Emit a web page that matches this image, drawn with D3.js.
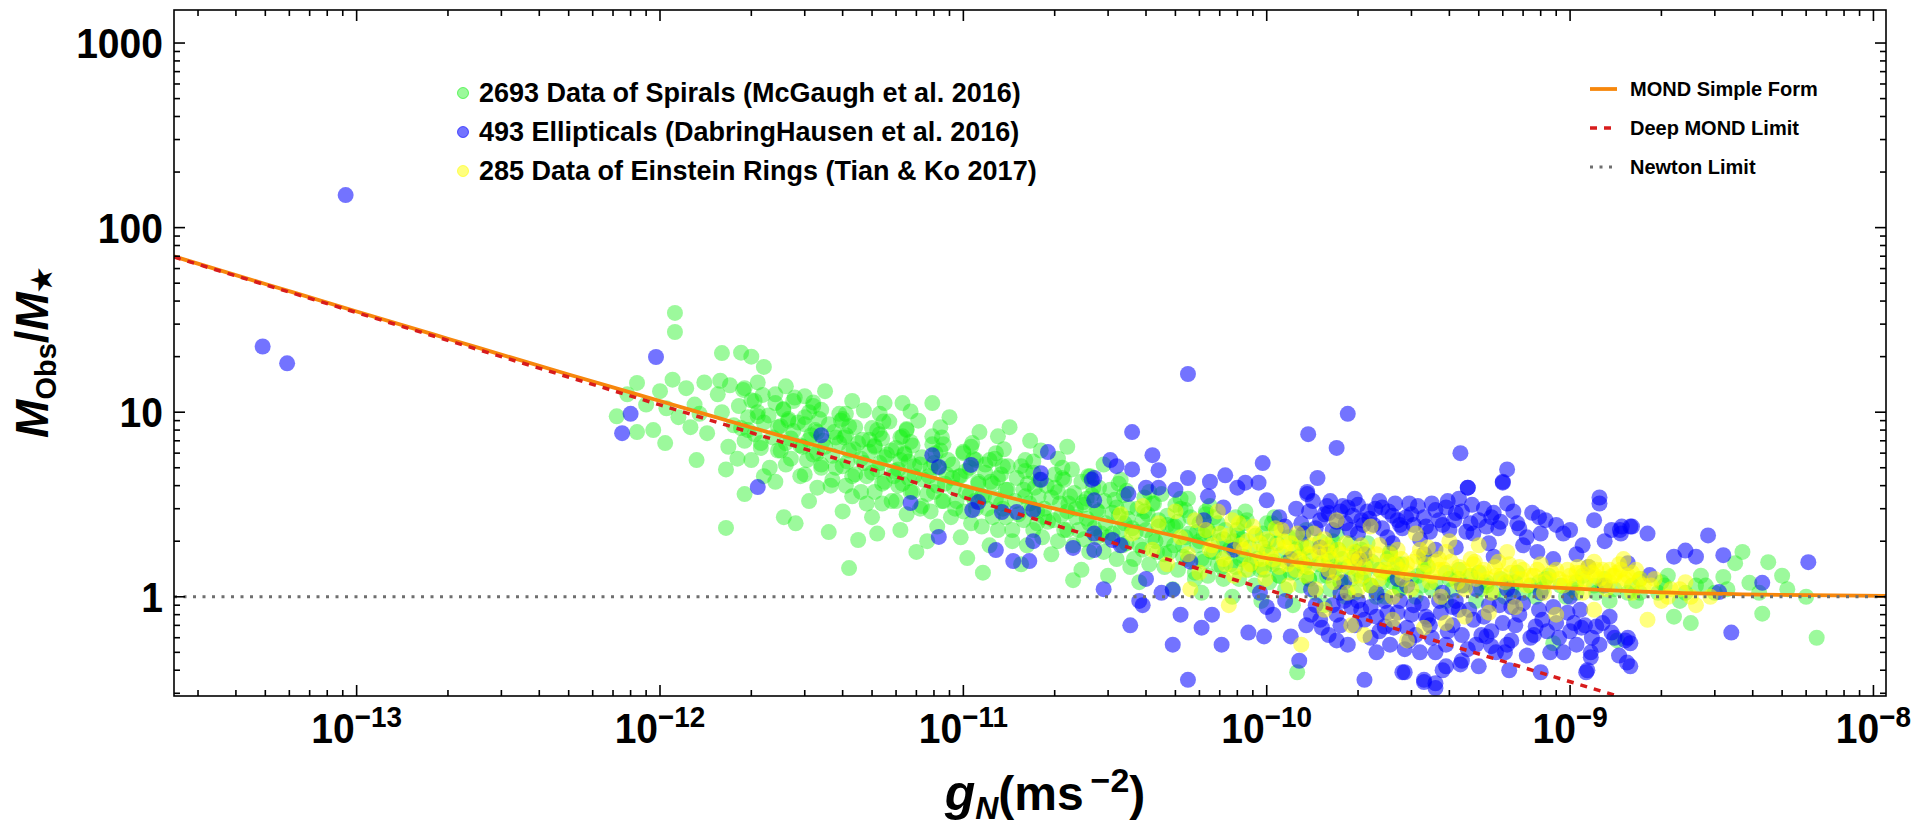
<!DOCTYPE html>
<html>
<head>
<meta charset="utf-8">
<script src="https://cdn.jsdelivr.net/npm/d3@7"></script>
<style>
  body { margin: 0; background: #fff; }
  svg { display: block; font-family: "Liberation Sans", Arial, sans-serif; }
</style>
</head>
<body>
<svg id="chart" width="1917" height="825"></svg>
<script>
// --- data: [gN (m s^-2), Mobs/M*] ---
const spirals = [
  [7.2e-13,9.5],[8.4e-13,14.4],[8.4e-13,7.8],[9.5e-13,8.0],[7.8e-13,12.5],[9.0e-13,11],
  [1.04e-12,6.8],[1.12e-12,34.5],[1.12e-12,27.2],[1.15e-12,9.4],[1.0e-12,13],[1.1e-12,15],[1.05e-12,10.5],
  [1.26e-12,8.3],[1.32e-12,5.5],[1.43e-12,7.7],[1.3e-12,11],[1.22e-12,13.5],[1.4e-12,14.5],[1.35e-12,9.8],
  [1.6e-12,20.9],[1.65e-12,4.9],[1.65e-12,2.36],[1.55e-12,12.5],[1.7e-12,14],[1.6e-12,10],[1.75e-12,8.5],[1.68e-12,6.5],[1.58e-12,14.8],
  [1.85e-12,21],[2.0e-12,20],[2.2e-12,17.6],[1.9e-12,13.5],[2.05e-12,11.5],[2.1e-12,9.5],[1.95e-12,8],[2.15e-12,6.8],[2.0e-12,5.5],[2.2e-12,4.5],[1.9e-12,3.6],[2.1e-12,14.5],
  [2.56e-12,2.7],[2.8e-12,2.5],[2.4e-12,4.2],[2.6e-12,5.2],[2.5e-12,6.2],[2.7e-12,7.2],[2.45e-12,8.3],[2.65e-12,9.2],[2.55e-12,10.3],[2.75e-12,11.5],[2.4e-12,12.5],[2.6e-12,13.8],[2.9e-12,6.6],[2.85e-12,8.8],
  [3.6e-12,2.24],[3.1e-12,3.3],[3.3e-12,3.9],[3.0e-12,4.6],[3.4e-12,5.2],[3.2e-12,5.9],[3.5e-12,6.5],[3.1e-12,7.1],[3.3e-12,7.8],[3.6e-12,8.6],[3.0e-12,9.4],[3.4e-12,10.3],[3.2e-12,11.3],[3.0e-12,12.2],[3.5e-12,13],[3.7e-12,4.3],[3.8e-12,7.3],[3.9e-12,9.8],
  [4.2e-12,1.43],[4.5e-12,2.03],[4.0e-12,2.9],[4.3e-12,3.5],[4.1e-12,4.0],[4.4e-12,4.6],[4.0e-12,5.1],[4.6e-12,5.6],[4.2e-12,6.2],[4.5e-12,6.8],[4.1e-12,7.5],[4.4e-12,8.3],[4.0e-12,9.2],[4.7e-12,10.2],[4.3e-12,11.5],[4.8e-12,3.2],[4.9e-12,7.1],
  [5.2e-12,2.2],[5.0e-12,2.7],[5.4e-12,3.2],[5.1e-12,3.7],[5.5e-12,4.2],[5.0e-12,4.7],[5.3e-12,5.3],[5.6e-12,5.9],[5.1e-12,6.5],[5.4e-12,7.2],[5.2e-12,8.0],[5.7e-12,8.9],[5.3e-12,9.8],[5.5e-12,11.2],[5.9e-12,4.5],[5.8e-12,6.2],
  [7.0e-12,1.75],[6.2e-12,2.3],[6.5e-12,2.8],[6.0e-12,3.3],[6.7e-12,3.7],[6.3e-12,4.1],[6.9e-12,4.5],[6.1e-12,4.9],[6.6e-12,5.4],[6.4e-12,6.0],[6.8e-12,6.6],[6.2e-12,7.3],[6.5e-12,8.1],[7.1e-12,9.0],[6.7e-12,10.1],[6.3e-12,11.2],[7.2e-12,5.2],[7.3e-12,3.1],
  [7.6e-12,2.0],[8.2e-12,2.4],[7.8e-12,2.9],[8.5e-12,3.3],[8.0e-12,3.7],[8.7e-12,4.1],[7.7e-12,4.5],[8.3e-12,5.0],[8.9e-12,5.5],[8.1e-12,6.0],[8.6e-12,6.7],[7.9e-12,7.4],[8.4e-12,8.3],[9.0e-12,9.4],[7.9e-12,11.2],[9.2e-12,4.4],[9.4e-12,3.0],
  [1.03e-11,1.62],[9.8e-12,2.1],[1.06e-11,2.5],[1.0e-11,2.9],[1.09e-11,3.3],[1.02e-11,3.7],[1.12e-11,4.1],[9.7e-12,4.5],[1.05e-11,5.0],[1.1e-11,5.5],[1.0e-11,6.1],[1.07e-11,6.8],[1.13e-11,7.8],[1.16e-11,1.35],[1.15e-11,3.5],[1.18e-11,5.2],
  [1.22e-11,1.9],[1.3e-11,2.3],[1.25e-11,2.7],[1.35e-11,3.0],[1.28e-11,3.4],[1.38e-11,3.8],[1.23e-11,4.2],[1.33e-11,4.6],[1.4e-11,5.1],[1.27e-11,5.6],[1.36e-11,6.3],[1.3e-11,7.4],[1.42e-11,8.3],[1.45e-11,2.0],
  [1.55e-11,1.5],[1.62e-11,1.9],[1.7e-11,2.3],[1.58e-11,2.6],[1.75e-11,2.9],[1.65e-11,3.2],[1.6e-11,3.5],[1.72e-11,3.9],[1.78e-11,4.3],[1.6e-11,4.8],[1.7e-11,5.4],[1.8e-11,6.2],[1.66e-11,7.0],[1.85e-11,2.7],
  [2.3e-11,1.23],[1.95e-11,1.7],[2.05e-11,2.0],[2.15e-11,2.3],[1.98e-11,2.6],[2.2e-11,2.9],[2.08e-11,3.2],[2.25e-11,3.5],[2.0e-11,3.9],[2.12e-11,4.4],[2.28e-11,4.9],[2.05e-11,5.6],[2.2e-11,6.5],[2.35e-11,3.0],
  [2.45e-11,1.4],[2.6e-11,1.75],[2.5e-11,2.05],[2.7e-11,2.35],[2.55e-11,2.65],[2.75e-11,2.95],[2.48e-11,3.25],[2.65e-11,3.55],[2.8e-11,3.9],[2.58e-11,4.5],[2.9e-11,5.2],[2.85e-11,2.2],
  [3.0e-11,1.3],[3.2e-11,1.6],[3.35e-11,1.9],[3.1e-11,2.2],[3.4e-11,2.5],[3.25e-11,2.75],[3.5e-11,3.05],[3.15e-11,3.35],[3.45e-11,3.75],[3.3e-11,4.3],[3.6e-11,2.35],[3.55e-11,1.45],
  [3.8e-11,1.2],[4.1e-11,1.5],[3.9e-11,1.8],[4.3e-11,2.0],[4.0e-11,2.3],[4.4e-11,2.6],[3.95e-11,2.9],[4.2e-11,3.2],[4.5e-11,3.6],[4.6e-11,1.7],[4.7e-11,2.45],
  [4.9e-11,1.1],[5.1e-11,1.4],[5.3e-11,1.65],[4.95e-11,1.9],[5.4e-11,2.1],[5.0e-11,2.4],[5.6e-11,2.7],[5.2e-11,3.0],[5.5e-11,3.4],[5.8e-11,1.25],[5.9e-11,2.25],
  [6.1e-11,1.05],[6.4e-11,1.3],[6.2e-11,1.55],[6.7e-11,1.75],[6.0e-11,2.0],[6.5e-11,2.2],[6.9e-11,2.5],[6.3e-11,2.8],[7.1e-11,1.45],[7.2e-11,2.05],
  [7.7e-11,1.0],[8.1e-11,1.25],[7.9e-11,1.45],[8.4e-11,1.65],[7.6e-11,1.85],[8.3e-11,2.05],[8.0e-11,2.3],[8.6e-11,2.6],[8.9e-11,1.5],
  [9.6e-11,0.95],[1.02e-10,1.2],[9.8e-11,1.4],[1.05e-10,1.55],[1.0e-10,1.75],[1.08e-10,1.95],[9.7e-11,2.2],[1.04e-10,2.5],[1.1e-10,1.3],
  [1.22e-10,0.9],[1.26e-10,0.39],[1.3e-10,1.15],[1.24e-10,1.35],[1.33e-10,1.5],[1.28e-10,1.65],[1.36e-10,1.85],[1.25e-10,2.1],[1.38e-10,1.25],
  [1.55e-10,0.9],[1.62e-10,1.1],[1.58e-10,1.3],[1.68e-10,1.45],[1.6e-10,1.6],[1.72e-10,1.8],[1.65e-10,2.0],[1.75e-10,1.2],
  [1.95e-10,1.05],[2.05e-10,1.25],[2.0e-10,1.4],[2.12e-10,1.55],[1.98e-10,1.75],[2.2e-10,1.15],[2.15e-10,1.95],
  [2.45e-10,1.0],[2.6e-10,1.2],[2.5e-10,1.35],[2.7e-10,1.5],[2.55e-10,1.7],[2.75e-10,1.1],
  [3.1e-10,1.0],[3.25e-10,1.15],[3.15e-10,1.3],[3.4e-10,1.45],[3.3e-10,1.6],[3.5e-10,1.1],
  [3.9e-10,0.95],[4.1e-10,1.1],[4.0e-10,1.25],[4.3e-10,1.4],[4.5e-10,1.15],
  [4.9e-10,0.95],[5.1e-10,1.1],[5.3e-10,1.2],[5.0e-10,1.35],[5.6e-10,1.05],
  [6.1e-10,1.0],[6.4e-10,1.1],[6.2e-10,1.2],[6.7e-10,1.35],[7.0e-10,1.05],
  [7.7e-10,1.0],[8.1e-10,1.1],[7.9e-10,1.2],[8.5e-10,1.3],[8.8e-10,0.56],
  [9.7e-10,1.0],[1.02e-9,1.1],[1.05e-9,1.2],[1.1e-9,1.3],[1.43e-9,0.58],
  [1.22e-9,1.05],[1.28e-9,1.15],[1.3e-9,1.25],[1.35e-9,0.95],
  [1.55e-9,1.05],[1.6e-9,1.15],[1.7e-9,1.25],[1.65e-9,0.95],
  [1.95e-9,1.05],[2.05e-9,1.15],[2.2e-9,0.78],[2.1e-9,1.3],[2.5e-9,0.72],
  [2.4e-9,1.05],[2.6e-9,1.15],[2.7e-9,1.3],
  [3.2e-9,1.28],[3.5e-9,1.52],[3.7e-9,1.75],[3.0e-9,1.05],[3.3e-9,1.1],
  [3.9e-9,1.19],[4.3e-9,0.81],[4.5e-9,1.54],[4.2e-9,1.05],[5.2e-9,1.1],[6.5e-9,0.6],[6.0e-9,1.0],[5.0e-9,1.3],
  // dense core of the spiral band
  [1.8e-12,5.6],[2.15e-12,6.4],[1.9e-12,7.0],[2.05e-12,7.6],[1.85e-12,8.2],[2.2e-12,8.8],[1.95e-12,9.4],[2.1e-12,10.0],[1.82e-12,10.8],[2.0e-12,11.6],[2.18e-12,12.4],[1.88e-12,13.2],
  [2.3e-12,5.0],[2.7e-12,5.6],[2.45e-12,6.2],[2.6e-12,6.8],[2.35e-12,7.3],[2.75e-12,7.9],[2.5e-12,8.4],[2.65e-12,9.0],[2.28e-12,9.6],[2.55e-12,10.4],[2.4e-12,11.2],[2.78e-12,12.0],
  [2.9e-12,4.5],[3.4e-12,5.0],[3.05e-12,5.5],[3.3e-12,6.0],[2.95e-12,6.5],[3.45e-12,7.0],[3.15e-12,7.5],[3.25e-12,8.0],[3.0e-12,8.6],[3.35e-12,9.2],[3.1e-12,10.0],[3.2e-12,10.8],
  [3.65e-12,4.0],[4.3e-12,4.5],[3.8e-12,5.0],[4.15e-12,5.4],[3.7e-12,5.8],[4.35e-12,6.3],[3.9e-12,6.8],[4.05e-12,7.3],[3.75e-12,7.8],[4.2e-12,8.4],[3.95e-12,9.0],[4.1e-12,9.8],
  [4.6e-12,3.7],[5.4e-12,4.1],[4.8e-12,4.5],[5.2e-12,4.9],[4.7e-12,5.3],[5.5e-12,5.7],[4.9e-12,6.1],[5.1e-12,6.6],[4.65e-12,7.1],[5.3e-12,7.6],[5.0e-12,8.2],[5.45e-12,8.9],
  [5.8e-12,3.3],[6.8e-12,3.7],[6.1e-12,4.0],[6.6e-12,4.4],[5.9e-12,4.8],[6.9e-12,5.1],[6.2e-12,5.5],[6.4e-12,5.9],[6.0e-12,6.4],[6.7e-12,6.9],[6.3e-12,7.4],[6.5e-12,8.0],
  [7.2e-12,3.0],[8.6e-12,3.3],[7.6e-12,3.6],[8.2e-12,4.0],[7.4e-12,4.3],[8.8e-12,4.6],[7.8e-12,5.0],[8.0e-12,5.3],[7.3e-12,5.7],[8.4e-12,6.2],[7.9e-12,6.7],[8.5e-12,7.3],
  [9.1e-12,2.7],[1.1e-11,3.0],[9.5e-12,3.3],[1.05e-11,3.6],[9.3e-12,3.9],[1.12e-11,4.2],[9.8e-12,4.5],[1.02e-11,4.8],[9.2e-12,5.2],[1.08e-11,5.6],[1.0e-11,6.0],[1.06e-11,6.5],
  [1.15e-11,2.4],[1.38e-11,2.7],[1.2e-11,3.0],[1.33e-11,3.2],[1.17e-11,3.5],[1.4e-11,3.8],[1.25e-11,4.1],[1.3e-11,4.4],[1.18e-11,4.7],[1.35e-11,5.1],[1.22e-11,5.5],[1.28e-11,6.0],
  [1.45e-11,2.3],[1.75e-11,2.5],[1.52e-11,2.8],[1.68e-11,3.0],[1.48e-11,3.3],[1.77e-11,3.5],[1.58e-11,3.8],[1.63e-11,4.1],[1.5e-11,4.4],[1.7e-11,4.7],[1.55e-11,5.1],[1.6e-11,5.5],
  [1.82e-11,2.1],[2.2e-11,2.3],[1.9e-11,2.55],[2.1e-11,2.75],[1.85e-11,3.0],[2.22e-11,3.2],[1.95e-11,3.45],[2.05e-11,3.7],[1.88e-11,4.0],[2.15e-11,4.3],[2.0e-11,4.6],[2.12e-11,5.0],
  [2.3e-11,1.9],[2.75e-11,2.1],[2.4e-11,2.3],[2.6e-11,2.5],[2.35e-11,2.7],[2.78e-11,2.9],[2.5e-11,3.15],[2.55e-11,3.4],[2.32e-11,3.65],[2.68e-11,3.9],[2.45e-11,4.2],[2.62e-11,4.5],
  [2.9e-11,1.75],[3.45e-11,1.95],[3.0e-11,2.1],[3.3e-11,2.3],[2.95e-11,2.5],[3.48e-11,2.65],[3.1e-11,2.85],[3.2e-11,3.05],[2.92e-11,3.3],[3.38e-11,3.55],[3.05e-11,3.8],[3.25e-11,4.1],
  [3.65e-11,1.6],[4.35e-11,1.75],[3.8e-11,1.9],[4.2e-11,2.1],[3.7e-11,2.25],[4.4e-11,2.4],[3.9e-11,2.6],[4.05e-11,2.8],[3.75e-11,3.0],[4.25e-11,3.2],[3.95e-11,3.45],[4.1e-11,3.7],
  [4.6e-11,1.45],[5.5e-11,1.6],[4.8e-11,1.75],[5.3e-11,1.9],[4.65e-11,2.05],[5.55e-11,2.2],[4.9e-11,2.4],[5.1e-11,2.55],[4.7e-11,2.75],[5.4e-11,2.95],[5.0e-11,3.15],[5.2e-11,3.4],
  [5.8e-11,1.35],[6.9e-11,1.5],[6.1e-11,1.6],[6.6e-11,1.75],[5.9e-11,1.9],[6.95e-11,2.0],[6.2e-11,2.15],[6.4e-11,2.3],[6.0e-11,2.5],[6.7e-11,2.7],[6.3e-11,2.9],[6.5e-11,3.1],
  [7.2e-11,1.25],[8.7e-11,1.4],[7.6e-11,1.5],[8.2e-11,1.6],[7.4e-11,1.75],[8.8e-11,1.85],[7.8e-11,2.0],[8.0e-11,2.15],[7.3e-11,2.3],[8.4e-11,2.5],[7.9e-11,2.7],[8.5e-11,2.9],
  [9.1e-11,1.15],[1.1e-10,1.3],[9.5e-11,1.4],[1.05e-10,1.5],[9.3e-11,1.6],[1.12e-10,1.7],[9.8e-11,1.85],[1.02e-10,2.0],[9.2e-11,2.15],[1.08e-10,2.3],[1.0e-10,2.5],[1.06e-10,2.7],
  [1.15e-10,1.1],[1.38e-10,1.25],[1.2e-10,1.35],[1.33e-10,1.45],[1.17e-10,1.55],[1.4e-10,1.65],[1.25e-10,1.8],[1.3e-10,1.95],[1.18e-10,2.1],[1.35e-10,2.3],
  [1.45e-10,1.05],[1.75e-10,1.2],[1.52e-10,1.3],[1.68e-10,1.4],[1.48e-10,1.5],[1.77e-10,1.6],[1.58e-10,1.7],[1.63e-10,1.85],[1.5e-10,2.0],[1.7e-10,2.2],
  [1.82e-10,1.0],[2.2e-10,1.15],[1.9e-10,1.25],[2.1e-10,1.35],[1.85e-10,1.45],[2.22e-10,1.55],[1.95e-10,1.65],[2.05e-10,1.8],[1.88e-10,1.95],
  [2.3e-10,1.0],[2.75e-10,1.1],[2.4e-10,1.2],[2.6e-10,1.3],[2.35e-10,1.4],[2.78e-10,1.5],[2.5e-10,1.6],[2.55e-10,1.75],
  [3.0e-10,1.25],[3.3e-10,1.4],[3.6e-10,1.2],[3.9e-10,1.35],[4.3e-10,1.25],[4.7e-10,1.3],[5.3e-10,1.15],[5.9e-10,1.25],[6.6e-10,1.2],[7.4e-10,1.15],
  [8.3e-10,1.25],[9.3e-10,1.15],[1.05e-9,1.05],[1.2e-9,1.15],[1.4e-9,1.1],[1.7e-9,1.05],[2.0e-9,1.2],[2.3e-9,0.95],[2.8e-9,1.15]
];

const ellipticals = [
  [4.9e-14,22.7],[5.9e-14,18.4],[9.2e-14,150],
  [9.7e-13,19.9],[8.0e-13,9.8],[7.5e-13,7.7],[3.4e-12,7.5],[2.1e-12,3.93],
  [7.9e-12,5.85],[8.3e-12,5.05],[1.06e-11,5.18],[1.8e-11,4.67],[1.9e-11,6.08],[2.7e-11,4.4],[3.05e-11,5.5],[3.2e-11,5.1],
  [6.7e-12,3.22],[1.12e-11,3.26],[1.07e-11,2.95],[1.34e-11,2.88],[1.5e-11,2.88],[1.7e-11,2.95],[2.7e-11,3.33],[1.8e-11,4.3],[2.65e-11,4.3],
  [8.3e-12,2.11],[1.28e-11,1.79],[1.46e-11,1.56],[1.65e-11,1.56],[1.7e-11,2.0],[2.3e-11,1.84],[2.7e-11,1.79],[2.7e-11,2.2],[3.1e-11,2.03],
  [5.5e-11,16.1],[1.85e-10,9.8],[3.6e-11,7.8],[1.37e-10,7.6],[1.7e-10,6.4],[4.35e-10,6.0],[6.2e-10,4.9],[6.0e-10,4.2],
  [4.2e-11,5.85],[3.6e-11,4.9],[4.4e-11,4.85],[9.7e-11,5.3],[1.47e-10,4.4],[5.5e-11,4.4],[6.5e-11,4.2],[7.3e-11,4.55],[8.5e-11,4.15],[9.4e-11,4.15],[1.36e-10,3.7],[4.6e-10,3.9],[1.25e-9,3.45],
  [4.4e-11,3.9],[5.0e-11,3.8],[6.4e-11,3.5],[8.0e-11,3.9],[7.2e-11,3.05],[1.0e-10,3.33],[1.1e-10,2.7],[1.36e-10,3.6],[1.6e-10,2.84],[1.85e-10,3.05],
  [2.05e-10,2.6],[2.4e-10,3.05],[2.7e-10,2.6],[2.95e-10,3.2],[3.35e-10,2.4],[3.9e-10,3.05],[4.2e-10,2.84],[4.6e-10,3.9],[4.7e-10,2.5],[5.5e-10,2.7],
  [6.0e-10,4.15],[6.7e-10,2.5],[7.9e-10,2.7],[9.5e-10,2.2],[1.25e-9,3.2],[1.46e-9,2.3],[1.6e-9,2.4],[3.5e-11,3.6],[4.0e-11,3.9],
  [3.55e-11,0.70],[4.9e-11,0.55],[5.5e-11,0.355],[7.1e-11,0.55],[6.6e-11,0.8],[4.5e-11,1.05],[4.9e-11,1.09],[8.7e-11,0.64],[9.8e-11,0.61],[1.0e-10,0.88],
  [1.2e-10,0.61],[1.28e-10,0.45],[1.5e-10,0.75],[1.7e-10,0.58],[1.75e-10,1.05],[1.9e-10,0.88],[2.1e-10,0.355],[2.3e-10,0.5],[2.45e-10,0.69],[2.8e-10,0.39],
  [2.95e-10,0.58],[3.3e-10,0.355],[3.6e-10,0.34],[3.4e-10,0.75],[3.9e-10,0.42],[4.1e-10,0.88],[4.4e-10,0.45],[5.0e-10,0.42],[5.3e-10,0.61],[6.1e-10,0.5],
  [6.4e-10,0.88],[7.7e-10,0.69],[8.8e-10,0.88],[1.03e-9,0.72],[1.14e-9,0.4],[1.17e-9,0.5],[1.22e-9,0.69],[1.37e-9,0.64],[1.52e-9,0.58],[1.54e-9,0.44],
  [1.48e-9,2.4],[1.37e-9,2.3],
  [1.58e-9,2.4],[1.8e-9,2.2],[1.47e-9,2.2],[2.85e-9,2.15],[2.2e-9,1.65],[2.4e-9,1.78],[2.6e-9,1.65],[3.2e-9,1.68],[6.1e-9,1.54],[4.3e-9,1.19],
  [1.83e-9,1.31],[3.1e-9,1.06],[3.4e-9,0.64],[1.55e-9,1.52],[1.55e-9,0.6],
  [1.58e-9,0.42],[1.58e-9,0.56],[1.17e-9,0.47],[1.13e-9,0.39],[8.0e-10,0.39],[6.3e-10,0.4],[4.35e-10,0.43],[3.8e-10,0.4],[3.6e-10,0.32],[3.3e-10,0.345],
  [2.85e-10,0.39],[5.5e-10,0.54],[1.09e-9,0.68],
  [1.15e-10,2.4],[1.25e-10,3.0],[1.32e-10,2.2],[1.42e-10,3.3],[1.5e-10,2.6],[1.58e-10,3.1],[1.65e-10,2.3],[1.75e-10,2.9],[1.82e-10,2.5],[1.95e-10,3.4],
  [2.0e-10,2.2],[2.15e-10,2.9],[2.25e-10,2.45],[2.35e-10,3.3],[2.5e-10,2.1],[2.6e-10,2.75],[2.8e-10,2.35],[3.0e-10,2.8],[3.2e-10,2.05],[3.5e-10,3.2],
  [3.7e-10,2.6],[4.0e-10,2.3],[4.3e-10,3.4],[4.8e-10,2.2],[5.2e-10,3.0],[5.8e-10,2.35],[6.5e-10,2.9],[7.2e-10,2.1],[8.3e-10,2.6],[1.1e-9,1.9],[1.3e-9,2.0],
  [1.05e-10,0.8],[1.15e-10,0.95],[1.35e-10,0.7],[1.45e-10,0.9],[1.6e-10,0.62],[1.7e-10,0.8],[1.8e-10,0.95],[1.95e-10,0.7],[2.05e-10,0.85],[2.2e-10,0.6],
  [2.3e-10,0.78],[2.45e-10,0.95],[2.55e-10,0.55],[2.7e-10,0.82],[2.9e-10,0.68],[3.05e-10,0.9],[3.2e-10,0.5],[3.35e-10,0.78],[3.5e-10,0.6],[3.7e-10,0.95],
  [3.9e-10,0.55],[4.1e-10,0.7],[4.3e-10,0.85],[4.6e-10,0.52],[4.8e-10,0.75],[5.1e-10,0.62],[5.4e-10,0.9],[5.7e-10,0.5],[6.0e-10,0.72],[6.4e-10,0.58],
  [6.8e-10,0.8],[7.2e-10,0.48],[7.6e-10,0.62],[8.1e-10,0.75],[8.6e-10,0.5],[9.2e-10,0.6],[9.8e-10,0.82],[1.05e-9,0.55],[1.12e-9,0.7],[1.25e-9,0.55],
  [1.35e-9,0.78],[1.45e-9,0.48],
  [1.2e-10,1.6],[1.6e-10,1.35],[2.1e-10,1.7],[2.7e-10,1.25],[3.6e-10,1.8],[4.4e-10,1.15],[5.6e-10,1.65],[7.0e-10,1.9],[8.8e-10,1.6],[1.15e-9,1.45],
  [6.2e-10,1.1],[9.5e-11,1.05],[7.8e-11,1.8],[6.2e-11,2.6],[5.6e-11,1.55],[4.0e-11,1.25],[3.3e-11,1.9],[2.9e-11,1.1],[3.9e-11,0.9],
  [3.8e-11,0.95],[5.2e-11,0.8],[6.1e-11,0.68],
  [1.3e-10,2.5],[1.38e-10,2.9],[1.45e-10,2.35],[1.55e-10,2.8],[1.62e-10,3.3],[1.7e-10,2.55],[1.78e-10,3.1],[1.88e-10,2.3],[1.92e-10,2.75],[2.0e-10,3.15],
  [2.08e-10,2.45],[2.18e-10,2.65],[2.28e-10,3.0],[2.4e-10,2.35],[2.52e-10,2.9],[2.65e-10,3.2],[2.75e-10,2.45],[2.88e-10,2.7],[3.05e-10,2.45],[3.15e-10,3.1],
  [3.3e-10,2.7],[3.45e-10,2.25],[3.6e-10,2.95],[3.8e-10,2.45],[3.95e-10,3.3],[4.15e-10,2.6],[4.4e-10,2.9],[4.55e-10,2.25],[4.75e-10,3.15],[5.0e-10,2.6],
  [5.3e-10,2.4],[5.6e-10,2.85],[5.9e-10,2.55],[6.2e-10,3.2],[6.8e-10,2.35],[7.5e-10,2.85],[8.0e-10,2.2],[9.0e-10,2.45],[1.0e-9,2.3],[1.2e-9,2.6],
  [1.4e-10,0.8],[1.52e-10,0.68],[1.65e-10,0.9],[1.75e-10,0.7],[1.85e-10,0.55],[2.0e-10,0.95],[2.1e-10,0.75],[2.2e-10,0.88],[2.35e-10,0.65],[2.5e-10,0.82],
  [2.62e-10,0.68],[2.75e-10,0.95],[2.85e-10,0.52],[3.0e-10,0.8],[3.1e-10,0.62],[3.25e-10,0.92],[3.45e-10,0.7],[3.6e-10,0.5],[3.75e-10,0.82],[3.95e-10,0.65],
  [4.2e-10,0.95],[4.4e-10,0.62],[4.65e-10,0.85],[4.9e-10,0.55],[5.2e-10,0.78],[5.5e-10,0.65],[5.85e-10,0.9],[6.2e-10,0.55],[6.6e-10,0.7],[7.0e-10,0.92],
  [7.4e-10,0.6],[7.9e-10,0.85],[8.4e-10,0.65],[9.0e-10,0.72],[9.5e-10,0.5],[1.0e-9,0.65],[1.08e-9,0.85],[1.18e-9,0.6],[1.28e-9,0.72],[1.4e-9,0.6],
  [1.4e-10,1.1],[1.8e-10,1.2],[2.3e-10,1.05],[2.9e-10,1.15],[3.8e-10,1.05],[4.9e-10,1.1],[6.5e-10,1.0],[8.0e-10,1.05],[1.0e-9,1.0],[1.3e-9,1.15],
  [1.5e-10,1.85],[2.0e-10,1.6],[2.6e-10,1.95],[3.3e-10,1.7],[4.2e-10,1.85],[5.4e-10,1.95],[7.8e-10,1.75],[1.05e-9,1.7]
];

const rings = [
  [3.3e-11,2.8],[3.6e-11,2.2],[3.9e-11,3.1],[4.2e-11,1.8],[4.4e-11,2.5],[4.7e-11,1.5],[5.0e-11,2.9],[5.2e-11,2.1],[5.5e-11,1.7],[5.8e-11,2.6],
  [6.0e-11,1.35],[6.3e-11,2.3],[6.6e-11,1.9],[6.9e-11,2.9],[7.2e-11,1.6],[7.5e-11,2.15],[7.8e-11,1.3],[8.1e-11,2.5],[8.4e-11,1.8],[8.8e-11,1.5],
  [9.1e-11,2.2],[9.5e-11,1.95],[9.9e-11,1.25],[1.03e-10,1.7],[1.07e-10,2.35],[1.1e-10,1.45],[1.14e-10,2.0],[1.18e-10,1.15],[1.22e-10,1.75],[1.26e-10,2.2],
  [1.3e-10,1.55],[1.35e-10,1.3],[1.4e-10,1.9],[1.45e-10,1.1],[1.5e-10,1.65],[1.55e-10,2.05],[1.6e-10,1.4],[1.66e-10,1.2],[1.72e-10,1.8],[1.78e-10,1.5],
  [1.85e-10,1.05],[1.9e-10,1.65],[1.97e-10,1.3],[2.05e-10,1.9],[2.1e-10,1.45],[2.2e-10,1.15],[2.3e-10,1.7],[2.4e-10,1.35],[2.5e-10,1.55],[2.6e-10,1.0],
  [2.7e-10,1.8],[2.8e-10,1.25],[2.9e-10,1.5],[3.0e-10,1.1],[3.15e-10,1.65],[3.3e-10,1.35],[3.45e-10,1.2],[3.6e-10,1.55],[3.75e-10,1.0],[3.9e-10,1.75],
  [4.1e-10,1.3],[4.3e-10,1.45],[4.5e-10,1.1],[4.7e-10,1.6],[4.9e-10,1.25],[5.2e-10,1.4],[5.5e-10,1.05],[5.8e-10,1.55],[6.1e-10,1.2],[6.4e-10,1.35],
  [6.8e-10,1.45],[7.2e-10,1.15],[7.6e-10,1.3],[8.0e-10,1.5],[8.5e-10,1.25],[9.0e-10,1.4],[9.5e-10,1.15],[1.0e-9,1.3],[1.06e-9,1.45],[1.12e-9,1.2],
  [1.18e-9,1.35],[1.25e-9,1.25],[1.32e-9,1.1],[1.4e-9,1.3],[1.5e-9,1.2],[1.6e-9,1.05],[1.7e-9,1.25],[1.85e-9,1.15],[2.0e-9,0.95],[2.15e-9,1.1],
  [2.4e-9,1.2],[2.6e-9,0.9],
  [1.55e-10,0.85],[1.9e-10,0.7],[2.1e-10,0.62],[2.6e-10,0.75],[3.3e-10,0.68],[3.9e-10,0.72],[4.5e-10,0.78],[5.4e-10,0.82],[6.6e-10,0.88],[9.0e-10,0.8],
  [1.2e-9,0.85],[2.9e-10,0.58],[1.3e-10,0.55],[7.5e-11,0.9],[5.6e-11,1.1],[1.7e-10,2.6],[2.2e-10,2.4],[3.1e-10,2.2],[4.0e-10,2.0],[5.0e-10,1.9],
  [6.2e-10,1.75],[1.5e-9,1.6],[1.8e-9,0.75],[2.9e-9,1.0],
  [1.2e-9,1.55],[1.35e-9,1.4],[1.45e-9,1.5],[1.1e-9,1.05],[8.2e-10,1.05],[6.9e-10,1.25],[5.7e-10,1.3],[4.8e-10,1.5],[3.7e-10,1.4],[2.75e-10,1.4],
  [2.35e-10,1.25],[1.95e-10,1.55],[1.6e-10,1.75],[1.25e-10,1.4],[9.6e-11,1.6],[8.6e-11,2.0],[1.15e-10,1.85],[1.38e-10,1.7],[2.0e-10,1.1],[3.4e-10,1.85],
  [6.5e-11,1.8],[7.0e-11,2.2],[7.3e-11,1.5],[7.7e-11,2.6],[8.2e-11,1.9],[8.5e-11,1.4],[9.0e-11,2.4],[9.3e-11,1.75],[9.7e-11,1.45],[1.0e-10,2.05],
  [1.05e-10,1.6],[1.09e-10,1.9],[1.12e-10,2.3],[1.17e-10,1.5],[1.2e-10,1.95],[1.27e-10,1.6],[1.32e-10,1.85],[1.37e-10,1.45],[1.43e-10,2.2],[1.48e-10,1.75],
  [1.53e-10,1.5],[1.58e-10,1.9],[1.63e-10,1.6],[1.7e-10,1.35],[1.76e-10,1.7],[1.82e-10,1.95],[1.88e-10,1.45],[1.94e-10,1.75],[2.02e-10,1.6],[2.08e-10,1.3],
  [2.15e-10,1.75],[2.25e-10,1.5],[2.35e-10,1.9],[2.45e-10,1.4],[2.55e-10,1.7],[2.65e-10,1.5],[2.78e-10,1.6],[2.9e-10,1.35],[3.05e-10,1.55],[3.2e-10,1.8],
  [3.35e-10,1.5],[3.5e-10,1.3],[3.7e-10,1.6],[3.85e-10,1.4],[4.05e-10,1.55],[4.25e-10,1.2],[4.45e-10,1.4],[4.65e-10,1.3],[4.85e-10,1.55],[5.1e-10,1.35],
  [5.35e-10,1.25],[5.65e-10,1.45],[5.95e-10,1.3],[6.3e-10,1.5],[6.6e-10,1.25],[7.0e-10,1.4],[7.4e-10,1.3],[7.8e-10,1.4],[8.2e-10,1.2],[8.7e-10,1.35],
  [9.2e-10,1.25],[9.8e-10,1.4],[1.03e-9,1.2],[1.09e-9,1.35],[1.15e-9,1.45],[1.21e-9,1.3],[1.28e-9,1.4],[1.35e-9,1.2],[1.42e-9,1.35],[1.55e-9,1.3],
  [1.65e-9,1.4],[1.75e-9,1.15],[1.9e-9,1.25],[2.1e-9,1.0],[2.3e-9,1.1],[2.5e-9,1.0],
  [1.12e-9,1.25],[1.22e-9,1.4],[1.3e-9,1.2],[1.38e-9,1.3],[1.47e-9,1.4],[1.52e-9,1.25],[1.6e-9,1.35],[1.68e-9,1.2],[1.05e-9,1.35],[9.6e-10,1.2]
];

// model curves, sampled from the drawn lines
const mondSimple = [
  [2.5e-14,69.8],[5e-14,49.5],[1e-13,35.1],[2e-13,25.0],[5e-13,16.0],[1e-12,11.5],[2e-12,8.26],[5e-12,5.42],
  [1e-11,4.0],[2e-11,3.0],[5e-11,2.13],[1e-10,1.62],[2e-10,1.42],[5e-10,1.2],[1e-9,1.11],[2e-9,1.057],[5e-9,1.024],[1.1e-8,1.011]
];
const deepMond = [[2.5e-14,69.3],[1e-12,10.95],[1e-10,1.095],[1.45e-9,0.288]];
const newtonLimit = [[2.5e-14,1],[1.1e-8,1]];

const xTickExps = [-13, -12, -11, -10, -9, -8];
const yTickVals = [1, 10, 100, 1000];

const pointSeries = [
  { name: "2693 Data of Spirals (McGaugh et al. 2016)", data: spirals, color: "#14f014", opacity: 0.42 },
  { name: "493 Ellipticals (DabringHausen et al. 2016)", data: ellipticals, color: "#0000ff", opacity: 0.55 },
  { name: "285 Data of Einstein Rings (Tian & Ko 2017)", data: rings, color: "#ffff00", opacity: 0.5 }
];
const lineSeries = [
  { name: "MOND Simple Form", data: mondSimple, color: "#f7870c", width: 3.8, dash: null },
  { name: "Deep MOND Limit", data: deepMond, color: "#d81c1c", width: 3.5, dash: "7,7" },
  { name: "Newton Limit", data: newtonLimit, color: "#6e6e6e", width: 3, dash: "3,6.5" }
];

const svg = d3.select("#chart");
const plot = { left: 174, right: 1886, top: 10, bottom: 696 };

const x = d3.scaleLog().domain([2.5e-14, 1.1e-8]).range([plot.left, plot.right]);
const y = d3.scaleLog().domain([0.29, 1510]).range([plot.bottom, plot.top]);

svg.append("defs").append("clipPath").attr("id", "clip")
  .append("rect")
  .attr("x", plot.left).attr("y", plot.top)
  .attr("width", plot.right - plot.left).attr("height", plot.bottom - plot.top);

const inner = svg.append("g").attr("clip-path", "url(#clip)");

// scatter layers
pointSeries.forEach(s => {
  inner.append("g")
    .selectAll("circle")
    .data(s.data)
    .join("circle")
    .attr("cx", d => x(d[0]))
    .attr("cy", d => y(d[1]))
    .attr("r", 8)
    .attr("fill", s.color)
    .attr("fill-opacity", s.opacity);
});

// model lines
const line = d3.line()
  .x(d => x(d[0]))
  .y(d => y(d[1]))
  .curve(d3.curveMonotoneX);

lineSeries.forEach(s => {
  inner.append("path")
    .datum(s.data)
    .attr("d", line)
    .attr("fill", "none")
    .attr("stroke", s.color)
    .attr("stroke-width", s.width)
    .attr("stroke-dasharray", s.dash);
});

// frame + ticks (all four sides, inward)
const axes = svg.append("g").attr("stroke", "#000").attr("stroke-width", 1.6);
axes.append("rect")
  .attr("x", plot.left).attr("y", plot.top)
  .attr("width", plot.right - plot.left).attr("height", plot.bottom - plot.top)
  .attr("fill", "none");

const xTicks = [];
for (let e = -14; e <= -8; e++) {
  for (let k = 1; k <= 9; k++) {
    const v = k * Math.pow(10, e);
    if (v >= x.domain()[0] && v <= x.domain()[1]) xTicks.push({ v, major: k === 1 });
  }
}
const yTicks = [];
for (let e = -1; e <= 3; e++) {
  for (let k = 1; k <= 9; k++) {
    const v = k * Math.pow(10, e);
    if (v >= y.domain()[0] && v <= y.domain()[1]) yTicks.push({ v, major: k === 1 });
  }
}

xTicks.forEach(t => {
  const px = x(t.v), len = t.major ? 11 : 6;
  axes.append("line").attr("x1", px).attr("x2", px).attr("y1", plot.bottom).attr("y2", plot.bottom - len);
  axes.append("line").attr("x1", px).attr("x2", px).attr("y1", plot.top).attr("y2", plot.top + len);
});
yTicks.forEach(t => {
  const py = y(t.v), len = t.major ? 11 : 6;
  axes.append("line").attr("y1", py).attr("y2", py).attr("x1", plot.left).attr("x2", plot.left + len);
  axes.append("line").attr("y1", py).attr("y2", py).attr("x1", plot.right).attr("x2", plot.right - len);
});

// tick labels
xTickExps.forEach(e => {
  const t = svg.append("g")
    .attr("transform", `translate(${x(Math.pow(10, e))},743) scale(0.93,1)`)
    .append("text")
    .attr("text-anchor", "middle")
    .attr("font-weight", "bold")
    .attr("font-size", 42);
  t.append("tspan").text("10");
  t.append("tspan").attr("font-size", 30).attr("dy", -16).text("\u2212" + Math.abs(e));
});

yTickVals.forEach(v => {
  svg.append("g")
    .attr("transform", `translate(163,${y(v) + 15}) scale(0.93,1)`)
    .append("text")
    .attr("text-anchor", "end")
    .attr("font-weight", "bold")
    .attr("font-size", 42)
    .text(v);
});

// axis titles
const xt = svg.append("text")
  .attr("x", 1045)
  .attr("y", 810)
  .attr("text-anchor", "middle")
  .attr("font-weight", "bold")
  .attr("font-size", 48);
xt.append("tspan").attr("font-style", "italic").attr("font-size", 50).text("g");
xt.append("tspan").attr("font-style", "italic").attr("font-size", 32).attr("dy", 9).text("N");
xt.append("tspan").attr("dy", -9).text("(ms");
xt.append("tspan").attr("font-size", 34).attr("dy", -18).text("\u2009\u22122");
xt.append("tspan").attr("dy", 18).text(")");

const yt = svg.append("text")
  .attr("transform", `translate(48,${(plot.top + plot.bottom) / 2}) rotate(-90)`)
  .attr("text-anchor", "middle")
  .attr("font-weight", "bold")
  .attr("font-size", 46);
yt.append("tspan").attr("font-style", "italic").text("M");
yt.append("tspan").attr("font-size", 29).attr("dy", 8).text("Obs");
yt.append("tspan").attr("dy", -8).text("/");
yt.append("tspan").attr("font-style", "italic").text("M");
yt.append("tspan").attr("font-size", 27).attr("dy", 3).text("\u2605");

// legend: point series
const legL = svg.append("g").attr("transform", "translate(463,93)");
pointSeries.forEach((s, i) => {
  const row = legL.append("g").attr("transform", `translate(0,${i * 39})`);
  row.append("circle")
    .attr("r", 5.5)
    .attr("fill", s.color)
    .attr("fill-opacity", s.opacity)
    .attr("stroke", s.color)
    .attr("stroke-opacity", 0.6);
  row.append("text")
    .attr("x", 16)
    .attr("dy", "0.35em")
    .attr("font-weight", "bold")
    .attr("font-size", 27)
    .text(s.name);
});

// legend: lines
const legR = svg.append("g").attr("transform", "translate(1590,89)");
lineSeries.forEach((s, i) => {
  const row = legR.append("g").attr("transform", `translate(0,${i * 39})`);
  row.append("line")
    .attr("x1", 0).attr("x2", 27)
    .attr("stroke", s.color)
    .attr("stroke-width", s.width)
    .attr("stroke-dasharray", s.dash);
  row.append("text")
    .attr("x", 40)
    .attr("dy", "0.35em")
    .attr("font-weight", "bold")
    .attr("font-size", 20)
    .text(s.name);
});
</script>
</body>
</html>
